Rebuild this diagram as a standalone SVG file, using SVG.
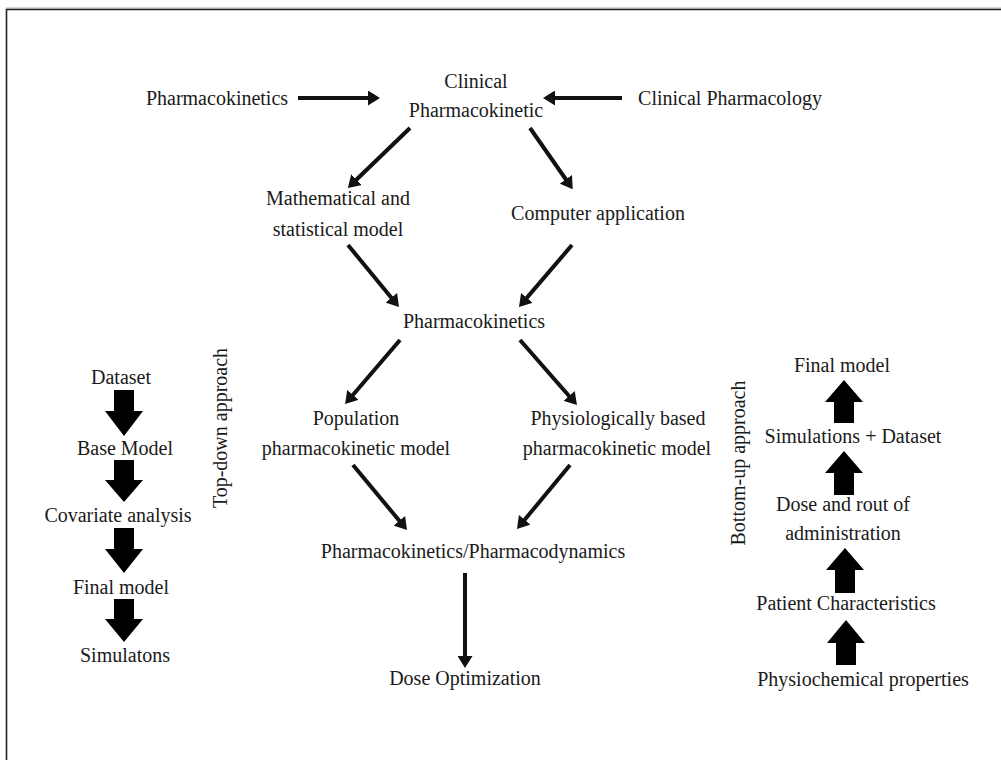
<svg xmlns="http://www.w3.org/2000/svg" width="1001" height="760" viewBox="0 0 1001 760">
<style>
text{font-family:"Liberation Serif","Times New Roman",serif;font-size:20px;fill:#1a1a1a;text-anchor:middle}
.c line{stroke:#111;stroke-width:4;marker-end:url(#ah)}
.blk{fill:#000}
</style>
<defs>
<marker id="ah" markerUnits="userSpaceOnUse" viewBox="0 0 12 15" refX="2" refY="7.5" markerWidth="12" markerHeight="15" orient="auto">
<path d="M0,0 L12,7.5 L0,15 Z" fill="#111"/>
</marker>
</defs>
<rect width="1001" height="760" fill="#fff"/>
<line x1="6" y1="8" x2="1001" y2="8" stroke="#aaa" stroke-width="1"/>
<path d="M6.5,760 V9.5 H1001" fill="none" stroke="#222" stroke-width="1.6"/>

<g id="n-pk-top"><text x="217" y="105">Pharmacokinetics</text></g>
<g id="n-clinical-pk"><text x="476" y="88">Clinical</text><text x="476" y="117">Pharmacokinetic</text></g>
<g id="n-clinical-pharm"><text x="730" y="105">Clinical Pharmacology</text></g>
<g id="n-math"><text x="338" y="205">Mathematical and</text><text x="338" y="236">statistical model</text></g>
<g id="n-computer"><text x="598" y="220">Computer application</text></g>
<g id="n-pk-mid"><text x="474" y="328">Pharmacokinetics</text></g>
<g id="n-popk"><text x="356" y="425">Population</text><text x="356" y="455">pharmacokinetic model</text></g>
<g id="n-pbpk"><text x="618" y="425">Physiologically based</text><text x="617" y="455">pharmacokinetic model</text></g>
<g id="n-pkpd"><text x="473" y="558">Pharmacokinetics/Pharmacodynamics</text></g>
<g id="n-dose"><text x="465" y="685">Dose Optimization</text></g>

<g id="n-topdown">
<text x="121" y="384">Dataset</text>
<text x="125" y="455">Base Model</text>
<text x="118" y="522">Covariate analysis</text>
<text x="121" y="594">Final model</text>
<text x="125" y="662">Simulatons</text>
<text transform="translate(227,428) rotate(-90)">Top-down approach</text>
</g>
<g id="n-bottomup">
<text x="842" y="372">Final model</text>
<text x="853" y="443">Simulations + Dataset</text>
<text x="843" y="511">Dose and rout of</text>
<text x="843" y="540">administration</text>
<text x="846" y="610">Patient Characteristics</text>
<text x="863" y="686">Physiochemical properties</text>
<text transform="translate(745,463) rotate(-90)">Bottom-up approach</text>
</g>

<g id="connectors" class="c">
<line x1="298" y1="98" x2="370" y2="98"/>
<line x1="622" y1="98" x2="553" y2="98"/>
<line x1="410" y1="128" x2="355" y2="181"/>
<line x1="530" y1="128" x2="567" y2="181"/>
<line x1="348" y1="245" x2="392.6" y2="299.3"/>
<line x1="572" y1="245" x2="525.5" y2="299.4"/>
<line x1="400" y1="340" x2="351.6" y2="396.5"/>
<line x1="520" y1="340" x2="570.4" y2="397.5"/>
<line x1="353" y1="465" x2="400.6" y2="522.3"/>
<line x1="570" y1="465" x2="523.4" y2="521.3"/>
<line x1="465" y1="573" x2="465" y2="658"/>
<g id="block-down">
<polygon class="blk" points="114,390 134,390 134,411 143,411 124,436 105,411 114,411"/>
<polygon class="blk" points="114,460 134,460 134,480 143,480 124,502 105,480 114,480"/>
<polygon class="blk" points="114,528 134,528 134,549 143,549 124,573 105,549 114,549"/>
<polygon class="blk" points="114,599 134,599 134,619 143,619 124,642 105,619 114,619"/>
</g>
<g id="block-up">
<polygon class="blk" points="834,423 854,423 854,402 863,402 844,380 825,402 834,402"/>
<polygon class="blk" points="834,495 854,495 854,473 863,473 844,451 825,473 834,473"/>
<polygon class="blk" points="835,593 855,593 855,570 864,570 845,548 826,570 835,570"/>
<polygon class="blk" points="836,665 856,665 856,643 865,643 846,620 827,643 836,643"/>
</g>
</g>
</svg>
